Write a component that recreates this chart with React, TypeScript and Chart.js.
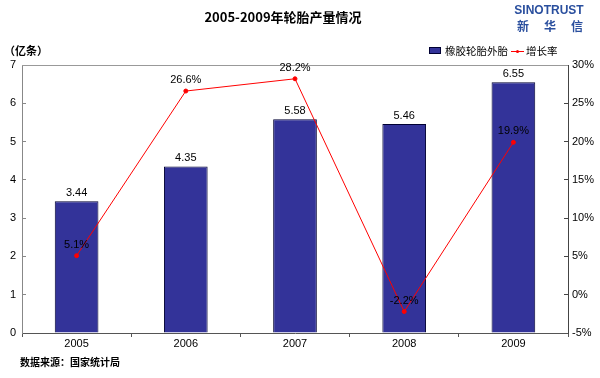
import React, { useEffect, useRef } from "react";
import { Chart, registerables } from "chart.js";

Chart.register(...registerables);

const categories = ["2005", "2006", "2007", "2008", "2009"];
const outputValues = [3.44, 4.35, 5.58, 5.46, 6.55];
const growthValues = [5.1, 26.6, 28.2, -2.2, 19.9];
const growthLabels = ["5.1%", "26.6%", "28.2%", "-2.2%", "19.9%"];
const barSeriesName = "橡胶轮胎外胎";
const lineSeriesName = "增长率";
const titleText = "2005-2009年轮胎产量情况";
const unitText = "（亿条）";
const sourceText = "数据来源：国家统计局";

const FONT = "'Liberation Sans', Arial, sans-serif";
const CJK = "'Noto Sans CJK SC', sans-serif";

export default function App() {
  const ref = useRef<HTMLCanvasElement>(null);
  useEffect(() => {
    const canvas = ref.current!;
    const decor = {
      id: "decor",
      afterDraw(chart: any) {
        const ctx = chart.ctx;
        const a = chart.chartArea;
        ctx.save();
        // top border
        ctx.strokeStyle = "#999";
        ctx.lineWidth = 1;
        ctx.beginPath();
        ctx.moveTo(a.left, a.top + 0.5);
        ctx.lineTo(a.right, a.top + 0.5);
        ctx.stroke();
        // title
        ctx.fillStyle = "#000";
        ctx.font = `bold 13px ${CJK}`;
        ctx.textAlign = "center";
        ctx.textBaseline = "middle";
        ctx.fillText(titleText, 283, 17);
        // logo
        ctx.fillStyle = "#2A4F9E";
        ctx.font = `bold 12px ${FONT}`;
        ctx.textAlign = "center";
        ctx.fillText("SINOTRUST", 549, 11);
        ctx.font = `bold 12px ${CJK}`;
        ctx.fillText("新", 523, 26);
        ctx.fillText("华", 550, 26);
        ctx.fillText("信", 577, 26);
        // unit
        ctx.fillStyle = "#000";
        ctx.font = `bold 11px ${CJK}`;
        ctx.textAlign = "left";
        ctx.fillText(unitText, 4, 51);
        // legend
        ctx.fillStyle = "#333399";
        ctx.fillRect(429, 47, 12, 7);
        ctx.strokeStyle = "#000033";
        ctx.strokeRect(429.5, 47.5, 11, 6);
        ctx.fillStyle = "#000";
        ctx.font = `10.5px ${CJK}`;
        ctx.fillText(barSeriesName, 445, 51);
        ctx.strokeStyle = "#FF0000";
        ctx.beginPath();
        ctx.moveTo(511, 51.5);
        ctx.lineTo(524, 51.5);
        ctx.stroke();
        ctx.fillStyle = "#FF0000";
        ctx.beginPath();
        ctx.arc(517.5, 51.5, 1.5, 0, Math.PI * 2);
        ctx.fill();
        ctx.fillStyle = "#000";
        ctx.fillText(lineSeriesName, 526, 51);
        // source
        ctx.font = `bold 10px ${CJK}`;
        ctx.fillText(sourceText, 20, 362);
        // data labels
        ctx.font = `11px ${FONT}`;
        ctx.textAlign = "center";
        ctx.textBaseline = "alphabetic";
        const barMeta = chart.getDatasetMeta(0);
        barMeta.data.forEach((el: any, i: number) => {
          ctx.fillText(outputValues[i].toFixed(2), el.x, el.y - 5);
        });
        const lineMeta = chart.getDatasetMeta(1);
        lineMeta.data.forEach((el: any, i: number) => {
          ctx.fillText(growthLabels[i], el.x, el.y - 8);
        });
        ctx.restore();
      },
    };
    const chart = new Chart(canvas, {
      type: "bar",
      data: {
        labels: categories,
        datasets: [
          {
            type: "bar",
            label: barSeriesName,
            data: outputValues,
            backgroundColor: "#333399",
            borderColor: "#000033",
            borderWidth: 1,
            categoryPercentage: 0.8,
            barPercentage: 0.5,
            yAxisID: "y",
            order: 2,
          },
          {
            type: "line",
            label: lineSeriesName,
            data: growthValues,
            borderColor: "#FF0000",
            backgroundColor: "#FF0000",
            borderWidth: 1,
            pointRadius: 2,
            pointHoverRadius: 2,
            yAxisID: "y1",
            order: 1,
          },
        ],
      },
      options: {
        responsive: false,
        animation: false,
        events: [],
        layout: { padding: { top: 65, left: 0, right: 0, bottom: 0 } },
        plugins: { legend: { display: false }, title: { display: false }, tooltip: { enabled: false } },
        scales: {
          x: {
            offset: true,
            grid: { offset: true, drawOnChartArea: false, drawTicks: true, tickLength: 4, color: "#555" },
            border: { color: "#555" },
            ticks: { color: "#000", font: { family: FONT, size: 11 }, padding: 0 },
            afterFit: (s: any) => { s.height = 45; },
          },
          y: {
            position: "left",
            min: 0,
            max: 7,
            ticks: { stepSize: 1, color: "#000", font: { family: FONT, size: 11 }, padding: 10 },
            grid: { drawOnChartArea: false, drawTicks: true, tickLength: -4, color: "#888" },
            border: { color: "#888" },
            afterFit: (s: any) => { s.width = 22; },
          },
          y1: {
            position: "right",
            min: -5,
            max: 30,
            ticks: { stepSize: 5, color: "#000", font: { family: FONT, size: 11 }, padding: 8, callback: (v: any) => v + "%" },
            grid: { drawOnChartArea: false, drawTicks: true, tickLength: -4, color: "#444" },
            border: { color: "#444" },
            afterFit: (s: any) => { s.width = 32; },
          },
        },
      },
      plugins: [decor],
    });
    return () => chart.destroy();
  }, []);
  return (
    <div style={{ position: "fixed", left: 0, top: 0, width: 600, height: 378, background: "#fff" }}>
      <canvas ref={ref} width={600} height={378} style={{ width: 600, height: 378 }} />
    </div>
  );
}
